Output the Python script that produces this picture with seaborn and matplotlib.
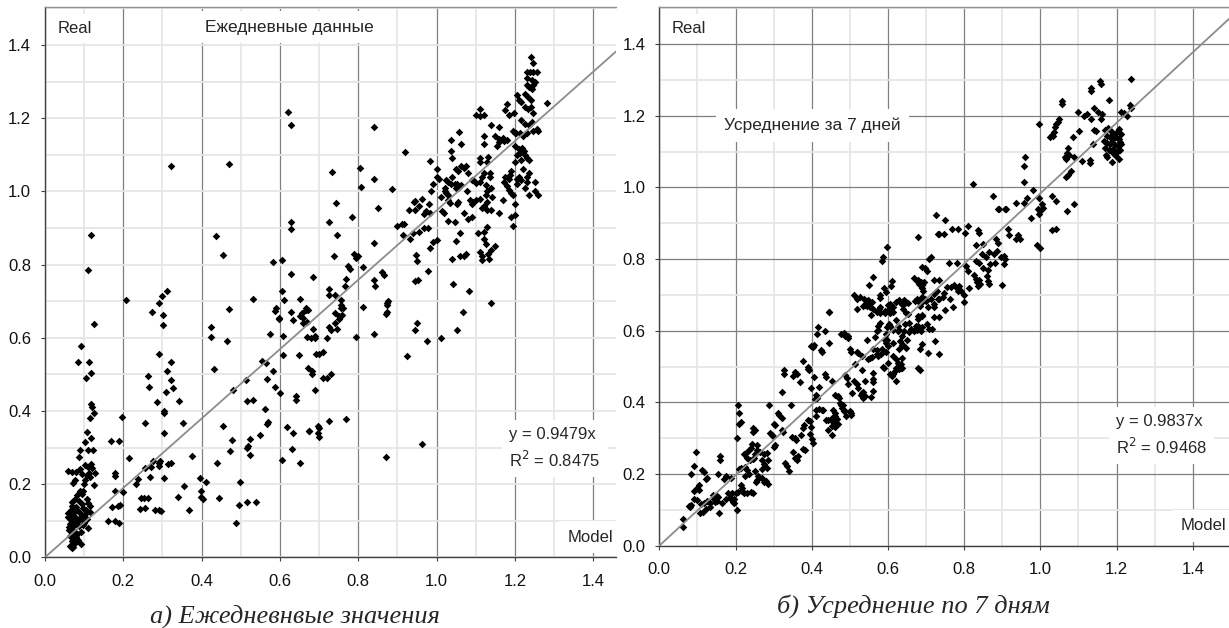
import numpy as np
import pandas as pd
import matplotlib
matplotlib.use('Agg')
import matplotlib.pyplot as plt
import seaborn as sns
from matplotlib.ticker import MultipleLocator, FormatStrFormatter

# (model, real) pairs
daily_points = [
    # low cluster near x=0.07-0.13
    (0.117,0.881),(0.111,0.784),(0.125,0.637),(0.092,0.578),(0.085,0.534),(0.113,0.534),(0.118,0.504),(0.105,0.490),
    (0.117,0.419),(0.119,0.412),(0.125,0.395),(0.115,0.381),(0.108,0.342),(0.118,0.325),(0.102,0.316),(0.089,0.293),
    (0.110,0.292),(0.122,0.292),(0.087,0.273),(0.103,0.252),(0.110,0.248),(0.118,0.255),(0.059,0.236),(0.070,0.233),
    (0.089,0.240),(0.128,0.230),(0.108,0.225),(0.116,0.220),(0.077,0.210),(0.072,0.203),(0.126,0.197),(0.102,0.210),
    (0.089,0.180),(0.098,0.182),(0.083,0.170),(0.094,0.172),(0.077,0.160),(0.107,0.160),(0.110,0.148),(0.094,0.145),
    (0.068,0.140),(0.079,0.138),(0.060,0.122),(0.072,0.115),(0.089,0.122),(0.102,0.118),(0.116,0.125),(0.063,0.105),
    (0.070,0.098),(0.078,0.108),(0.085,0.100),(0.095,0.105),(0.065,0.090),(0.072,0.085),(0.080,0.092),(0.088,0.085),
    (0.110,0.080),(0.062,0.075),(0.068,0.068),(0.075,0.072),(0.083,0.065),(0.092,0.070),(0.065,0.058),(0.072,0.052),
    (0.080,0.055),(0.068,0.045),(0.076,0.040),(0.085,0.048),(0.092,0.035),(0.063,0.030),(0.072,0.028),(0.068,0.025),
    (0.078,0.062),(0.060,0.110),(0.066,0.130),(0.082,0.130),(0.098,0.135),(0.100,0.095),(0.070,0.150),(0.086,0.155),
    (0.066,0.095),(0.074,0.125),(0.091,0.110),(0.062,0.082),(0.096,0.088),(0.105,0.128),(0.115,0.140),(0.108,0.105),
    (0.100,0.200),(0.112,0.230),(0.120,0.244),(0.095,0.228),(0.080,0.232),
    # 0.15 - 0.5
    (0.207,0.704),(0.274,0.671),(0.292,0.696),(0.298,0.715),(0.311,0.728),(0.301,0.662),(0.302,0.635),(0.290,0.556),
    (0.322,0.534),(0.262,0.495),(0.311,0.509),(0.321,0.484),(0.266,0.465),(0.326,0.462),(0.308,0.451),(0.285,0.425),
    (0.305,0.394),(0.305,0.399),(0.305,0.339),(0.255,0.368),(0.196,0.384),(0.168,0.319),(0.190,0.319),(0.215,0.270),
    (0.179,0.230),(0.179,0.223),(0.179,0.182),(0.198,0.178),(0.170,0.138),(0.187,0.140),(0.192,0.142),(0.160,0.100),
    (0.180,0.100),(0.190,0.093),(0.233,0.201),(0.238,0.215),(0.268,0.220),(0.244,0.163),(0.254,0.163),(0.263,0.163),
    (0.243,0.131),(0.256,0.136),(0.280,0.128),(0.290,0.130),(0.296,0.126),(0.256,0.245),(0.270,0.248),(0.275,0.262),
    (0.290,0.258),(0.293,0.262),(0.290,0.250),(0.303,0.218),(0.315,0.255),(0.322,0.258),(0.339,0.164),(0.354,0.195),
    (0.352,0.368),(0.341,0.427),(0.375,0.277),(0.368,0.129),(0.396,0.216),(0.398,0.180),(0.398,0.165),(0.403,0.158),
    (0.410,0.207),(0.321,1.070),(0.469,1.075),(0.436,0.879),(0.455,0.826),(0.425,0.628),(0.425,0.601),(0.431,0.515),
    (0.439,0.257),(0.444,0.163),(0.455,0.359),(0.472,0.291),(0.477,0.320),(0.464,0.592),(0.469,0.678),(0.479,0.457),
    (0.488,0.093),(0.496,0.143),
    # 0.5 - 0.7
    (0.499,0.206),(0.514,0.484),(0.517,0.428),(0.530,0.430),(0.516,0.300),(0.518,0.305),(0.523,0.280),(0.523,0.324),
    (0.517,0.150),(0.538,0.150),(0.548,0.333),(0.553,0.536),(0.564,0.530),(0.562,0.406),(0.568,0.365),(0.570,0.370),
    (0.568,0.486),(0.575,0.611),(0.583,0.510),(0.588,0.464),(0.590,0.680),(0.598,0.652),(0.600,0.448),(0.607,0.605),
    (0.607,0.554),(0.606,0.267),(0.618,0.357),(0.630,0.296),(0.634,0.341),(0.641,0.430),(0.642,0.440),(0.633,0.649),
    (0.648,0.554),(0.651,0.258),(0.657,0.668),(0.667,0.680),(0.669,0.643),(0.670,0.603),(0.671,0.517),(0.674,0.346),
    (0.681,0.508),(0.689,0.458),(0.693,0.555),(0.696,0.360),(0.698,0.340),(0.620,1.217),(0.628,1.181),(0.628,0.915),
    (0.628,0.897),(0.581,0.806),(0.605,0.812),(0.628,0.774),(0.685,0.765),(0.532,0.707),(0.606,0.728),(0.610,0.704),
    (0.588,0.674),(0.598,0.653),(0.628,0.671),(0.651,0.707),(0.652,0.659),(0.660,0.655),(0.666,0.675),(0.672,0.676),
    (0.682,0.500),(0.675,0.345),(0.700,0.353),(0.700,0.330),(0.680,0.600),(0.690,0.606),(0.685,0.625),(0.660,0.640),
    # 0.7 - 1.05
    (0.840,1.176),(0.920,1.108),(0.734,1.054),(0.805,1.065),(0.840,1.034),(0.807,1.011),(0.887,1.006),(0.742,0.967),
    (0.851,0.954),(0.726,0.917),(0.783,0.929),(0.745,0.882),(0.840,0.860),(0.739,0.823),(0.788,0.830),(0.793,0.818),
    (0.798,0.822),(0.775,0.795),(0.778,0.787),(0.811,0.794),(0.840,0.758),(0.842,0.740),(0.861,0.780),(0.866,0.772),
    (0.768,0.760),(0.766,0.742),(0.724,0.733),(0.724,0.716),(0.741,0.718),(0.756,0.703),(0.760,0.682),(0.758,0.662),
    (0.741,0.667),(0.811,0.685),(0.873,0.695),(0.872,0.665),(0.877,0.700),(1.068,0.671),(1.140,0.696),(1.041,0.746),
    (1.082,0.728),(0.948,0.826),(0.950,0.810),(0.953,0.758),(0.944,0.756),(0.979,0.783),(0.984,0.844),(0.990,0.862),
    (1.000,0.866),(0.955,0.890),(0.968,0.900),(0.978,0.900),(0.912,0.910),(0.918,0.912),(0.913,0.880),(0.898,0.906),
    (0.932,0.870),(0.940,0.885),(0.955,0.960),(0.962,0.980),(0.972,0.945),(0.968,0.938),(0.980,0.966),(0.982,0.940),
    (0.942,0.970),(0.946,0.974),(0.930,0.950),(0.946,0.950),(0.990,1.020),(0.985,1.000),(1.000,1.040),(1.002,1.060),
    (1.005,1.035),(0.983,1.084),(1.037,1.140),(1.040,1.090),(1.057,1.161),(1.024,1.030),(1.028,1.025),(1.036,1.020),
    (1.022,1.000),(1.030,0.990),(0.724,0.373),(0.768,0.378),(0.871,0.275),(0.963,0.310),(1.051,0.620),(1.011,0.600),
    (0.976,0.592),(0.949,0.640),(0.946,0.620),(0.924,0.551),(0.874,0.690),(0.874,0.670),(0.840,0.609),(0.794,0.601),
    (0.710,0.490),(0.720,0.490),(0.730,0.500),(0.700,0.555),(0.710,0.560),(0.690,0.600),(0.720,0.600),(0.730,0.620),
    (0.725,0.630),(0.740,0.640),(0.745,0.625),(0.750,0.650),(0.752,0.660),(0.755,0.680),(0.755,0.690),
    # 1.0 - 1.3
    (1.050,1.060),(1.055,1.055),(1.052,1.020),(1.050,1.010),(1.062,1.070),(1.070,1.065),(1.075,1.070),(1.077,1.000),
    (1.080,1.050),(1.090,1.030),(1.092,1.032),(1.092,0.970),(1.085,0.975),(1.100,0.975),(1.110,1.080),(1.128,1.080),
    (1.120,1.050),(1.136,1.050),(1.125,0.990),(1.128,1.000),(1.140,1.010),(1.142,0.985),(1.120,0.890),(1.122,0.870),
    (1.125,0.855),(1.130,0.830),(1.140,0.950),(1.150,0.850),(1.140,0.840),(1.170,0.975),(1.200,0.965),(1.200,0.935),
    (1.175,1.040),(1.185,1.035),(1.188,1.045),(1.190,1.055),(1.200,1.080),(1.215,1.085),(1.220,1.060),(1.205,1.035),
    (1.215,1.030),(1.230,1.025),(1.250,1.025),(1.235,1.050),(1.154,1.124),(1.120,1.150),(1.138,1.180),(1.160,1.175),
    (1.100,1.210),(1.112,1.205),(1.170,1.145),(1.160,1.142),(1.180,1.140),(1.200,1.160),(1.222,1.110),
    (1.241,1.367),(1.247,1.350),(1.230,1.325),(1.238,1.326),(1.247,1.325),(1.256,1.325),(1.232,1.310),(1.243,1.305),
    (1.252,1.300),(1.230,1.290),(1.236,1.285),(1.243,1.280),(1.247,1.290),(1.225,1.265),(1.234,1.258),(1.241,1.250),
    (1.205,1.262),(1.211,1.250),(1.215,1.245),(1.180,1.240),(1.175,1.222),(1.185,1.210),(1.198,1.215),(1.225,1.230),
    (1.234,1.225),(1.241,1.230),(1.247,1.215),(1.215,1.195),(1.225,1.185),(1.236,1.180),(1.243,1.190),(1.195,1.165),
    (1.203,1.160),(1.212,1.160),(1.220,1.150),(1.230,1.160),(1.247,1.165),(1.256,1.170),(1.260,1.165),(1.200,1.125),
    (1.210,1.115),(1.218,1.118),(1.213,1.105),(1.205,1.100),(1.226,1.098),(1.232,1.090),(1.236,1.085),(1.281,1.242),
    (1.110,1.224),(1.120,1.208),(1.150,1.150),(1.160,1.135),(1.172,1.138),(1.120,1.130),(1.063,1.130),(1.036,1.110),
    (1.110,1.090),(1.130,1.095),(1.040,1.040),(1.115,1.040),(1.137,1.040),(1.172,1.025),(1.180,1.015),(1.185,1.005),
    (1.190,0.995),(1.195,0.990),(1.205,1.020),(1.210,1.040),(1.230,1.040),(1.225,1.010),(1.250,1.000),(1.235,0.990),
    (1.260,0.990),(1.046,1.020),(1.055,1.010),(1.062,1.018),(1.022,1.010),(1.025,0.995),(1.010,0.985),(1.100,1.022),
    (1.110,1.025),(1.125,1.018),(1.030,0.975),(1.035,0.968),(1.055,0.972),(1.052,0.965),(1.090,0.965),(1.110,0.980),
    (1.128,0.970),(1.120,0.960),(1.115,0.955),(1.128,0.950),(1.015,0.945),(1.020,0.940),(1.070,0.942),(1.030,0.920),
    (1.047,0.915),(1.080,0.925),(1.090,0.930),(1.160,0.940),(1.128,0.903),(1.105,0.885),(1.060,0.885),(1.050,0.865),
    (1.190,0.930),(1.195,0.905),(1.110,0.835),(1.115,0.823),(1.135,0.815),(1.115,0.812),(1.070,0.823),(1.075,0.830),
    (1.060,0.822),(1.040,0.815),
]

weekly_points = [
    (0.063,0.053),(0.063,0.074),(0.077,0.112),(0.081,0.108),(0.082,0.114),(0.090,0.130),(0.100,0.128),(0.090,0.152),
    (0.098,0.160),(0.105,0.155),(0.082,0.200),(0.090,0.222),(0.097,0.262),(0.105,0.170),(0.118,0.205),(0.112,0.210),
    (0.125,0.190),(0.122,0.185),(0.108,0.115),(0.118,0.118),(0.126,0.124),(0.134,0.120),(0.106,0.092),(0.114,0.095),
    (0.123,0.103),(0.134,0.108),(0.143,0.130),(0.147,0.122),(0.150,0.125),(0.155,0.135),(0.140,0.142),(0.152,0.140),
    (0.155,0.200),(0.158,0.240),(0.160,0.250),(0.174,0.195),(0.170,0.185),(0.188,0.190),(0.156,0.092),(0.165,0.120),
    (0.175,0.130),(0.185,0.132),(0.192,0.122),(0.197,0.118),(0.197,0.130),(0.180,0.148),(0.190,0.146),(0.202,0.148),
    (0.206,0.150),(0.216,0.153),(0.222,0.148),(0.230,0.146),(0.240,0.150),(0.246,0.148),(0.205,0.100),(0.206,0.392),
    (0.210,0.370),(0.213,0.345),(0.210,0.340),(0.205,0.300),(0.210,0.214),(0.214,0.218),(0.224,0.220),(0.231,0.212),
    (0.226,0.195),(0.235,0.200),(0.215,0.170),(0.217,0.160),(0.222,0.255),(0.228,0.260),(0.234,0.268),(0.240,0.272),
    (0.230,0.245),(0.238,0.240),(0.245,0.318),(0.250,0.322),(0.246,0.328),(0.244,0.285),(0.256,0.282),(0.256,0.268),
    (0.252,0.255),(0.248,0.245),(0.246,0.242),(0.252,0.208),(0.256,0.183),(0.254,0.178),(0.260,0.195),(0.270,0.215),
    (0.275,0.228),(0.270,0.240),(0.283,0.218),(0.270,0.190),(0.275,0.178),(0.280,0.180),(0.285,0.172),(0.265,0.262),
    (0.275,0.256),(0.283,0.258),(0.288,0.393),(0.290,0.315),(0.295,0.310),(0.298,0.305),(0.300,0.340),(0.304,0.336),
    (0.300,0.275),(0.304,0.280),(0.285,0.240),(0.312,0.370),(0.315,0.365),(0.322,0.356),(0.322,0.324),(0.325,0.318),
    (0.322,0.428),(0.326,0.490),(0.326,0.478),(0.329,0.232),(0.334,0.222),(0.340,0.208),(0.345,0.392),(0.348,0.302),
    (0.356,0.300),(0.358,0.296),(0.350,0.262),(0.355,0.245),(0.360,0.240),(0.364,0.250),(0.350,0.475),(0.356,0.484),
    (0.362,0.480),(0.368,0.458),(0.372,0.310),(0.376,0.328),(0.380,0.338),(0.378,0.270),(0.382,0.267),(0.378,0.515),
    (0.390,0.494),(0.394,0.490),(0.396,0.347),(0.398,0.330),(0.391,0.350),(0.395,0.311),(0.400,0.297),(0.404,0.288),
    (0.389,0.499),(0.398,0.441),(0.405,0.470),(0.398,0.557),(0.402,0.555),(0.406,0.560),(0.408,0.410),(0.413,0.412),
    (0.412,0.378),(0.420,0.382),(0.412,0.363),(0.411,0.420),(0.416,0.610),(0.414,0.592),(0.420,0.443),(0.426,0.380),
    (0.430,0.378),(0.424,0.545),(0.428,0.540),(0.434,0.600),(0.436,0.480),(0.438,0.470),(0.438,0.352),(0.442,0.352),
    (0.452,0.356),(0.455,0.345),(0.452,0.335),(0.442,0.322),(0.446,0.652),(0.444,0.565),(0.454,0.460),(0.452,0.310),
    (0.457,0.380),(0.462,0.370),(0.460,0.362),(0.466,0.355),(0.458,0.342),(0.476,0.590),(0.462,0.332),(0.470,0.340),
    (0.462,0.420),(0.470,0.417),(0.472,0.412),(0.475,0.398),(0.478,0.392),(0.482,0.393),(0.480,0.383),(0.485,0.377),
    (0.488,0.375),(0.490,0.362),(0.494,0.579),(0.496,0.585),(0.488,0.477),(0.492,0.468),(0.484,0.595),(0.486,0.586),
    (0.496,0.450),(0.500,0.376),(0.502,0.370),(0.504,0.365),(0.500,0.548),(0.503,0.540),(0.506,0.425),(0.512,0.459),
    (0.514,0.508),(0.518,0.541),(0.522,0.537),(0.520,0.452),(0.522,0.440),(0.530,0.420),(0.534,0.412),(0.536,0.418),
    (0.540,0.418),(0.535,0.428),(0.532,0.425),(0.520,0.661),(0.532,0.530),(0.532,0.490),(0.540,0.460),(0.540,0.673),
    (0.548,0.685),(0.552,0.665),(0.555,0.645),(0.544,0.573),(0.548,0.522),(0.553,0.525),(0.557,0.527),(0.556,0.415),
    (0.560,0.457),(0.562,0.465),(0.562,0.432),(0.560,0.481),(0.565,0.582),(0.570,0.600),(0.574,0.603),(0.570,0.536),
    (0.575,0.530),(0.582,0.535),(0.575,0.614),(0.580,0.622),(0.570,0.653),(0.576,0.662),(0.578,0.665),(0.580,0.691),
    (0.586,0.500),(0.590,0.495),(0.592,0.575),(0.596,0.566),(0.598,0.610),(0.602,0.620),(0.606,0.614),(0.602,0.660),
    (0.606,0.675),(0.612,0.665),(0.600,0.510),(0.606,0.480),(0.610,0.475),(0.612,0.530),(0.620,0.520),(0.626,0.510),
    (0.630,0.500),(0.635,0.495),(0.612,0.478),(0.618,0.488),(0.622,0.496),(0.630,0.492),(0.636,0.497),(0.634,0.507),
    (0.620,0.460),(0.625,0.600),(0.628,0.603),(0.632,0.570),(0.637,0.560),(0.630,0.548),(0.636,0.525),(0.640,0.660),
    (0.646,0.650),(0.652,0.648),(0.630,0.685),(0.636,0.676),(0.645,0.683),(0.660,0.605),(0.667,0.598),(0.676,0.602),
    (0.686,0.600),(0.680,0.632),(0.670,0.682),(0.680,0.682),(0.705,0.538),
    # upper middle
    (0.446,0.653),(0.598,0.834),(0.678,0.862),(0.725,0.922),(0.732,0.871),(0.714,0.806),(0.690,0.777),(0.697,0.775),
    (0.588,0.806),(0.584,0.794),(0.562,0.750),(0.549,0.727),(0.510,0.700),(0.520,0.690),(0.527,0.695),(0.535,0.670),
    (0.543,0.678),(0.552,0.680),(0.580,0.650),(0.592,0.655),(0.604,0.650),(0.612,0.652),(0.622,0.680),(0.638,0.680),
    (0.642,0.685),(0.677,0.740),(0.686,0.737),(0.682,0.730),(0.690,0.720),(0.692,0.712),(0.690,0.695),(0.698,0.690),
    (0.692,0.685),(0.734,0.741),(0.688,0.680),(0.720,0.676),(0.730,0.690),(0.735,0.688),(0.678,0.642),(0.690,0.642),
    (0.734,0.638),(0.750,0.909),(0.890,0.941),(0.907,0.941),(0.735,0.870),(0.747,0.869),(0.767,0.883),(0.783,0.883),
    (0.802,0.873),(0.811,0.893),(0.837,0.880),(0.840,0.873),(0.830,0.840),(0.850,0.842),(0.883,0.855),(0.890,0.845),
    (0.916,0.885),(0.917,0.868),(0.708,0.800),(0.760,0.790),(0.780,0.790),(0.806,0.781),(0.810,0.768),(0.832,0.795),
    (0.840,0.790),(0.846,0.814),(0.858,0.806),(0.865,0.820),(0.878,0.815),(0.887,0.822),(0.896,0.806),(0.905,0.810),
    (0.908,0.800),(0.867,0.787),(0.880,0.790),(0.905,0.787),(0.850,0.774),(0.862,0.770),(0.703,0.766),(0.668,0.748),
    (0.678,0.742),(0.688,0.727),(0.695,0.735),(0.722,0.741),(0.755,0.723),(0.766,0.723),(0.772,0.728),(0.780,0.720),
    (0.783,0.712),(0.787,0.725),(0.792,0.710),(0.800,0.700),(0.812,0.718),(0.835,0.725),(0.842,0.730),(0.825,0.755),
    (0.830,0.745),(0.834,0.735),(0.840,0.742),(0.863,0.740),(0.865,0.730),(0.860,0.752),(0.898,0.727),(0.610,0.740),
    (0.608,0.725),(0.596,0.707),(0.590,0.720),(0.580,0.700),(0.538,0.690),(0.545,0.668),(0.558,0.680),(0.560,0.660),
    (0.600,0.672),(0.607,0.672),(0.592,0.650),(0.632,0.680),(0.640,0.672),(0.653,0.678),(0.675,0.690),(0.700,0.683),
    (0.713,0.690),(0.722,0.702),(0.728,0.712),(0.748,0.705),(0.745,0.693),(0.762,0.690),(0.620,0.630),(0.625,0.612),
    (0.642,0.600),(0.645,0.620),(0.656,0.622),(0.612,0.602),(0.636,0.585),(0.650,0.575),(0.655,0.596),(0.673,0.612),
    (0.678,0.613),(0.690,0.610),(0.595,0.590),(0.598,0.575),(0.600,0.557),(0.612,0.565),(0.560,0.548),(0.572,0.547),
    (0.585,0.548),(0.595,0.540),(0.723,0.572),(0.640,0.560),(0.648,0.553),
    (0.800,0.681),(0.770,0.665),(0.750,0.657),(0.720,0.667),(0.706,0.667),(0.685,0.670),(0.720,0.638),(0.715,0.605),
    (0.690,0.643),(0.702,0.618),(0.708,0.605),(0.735,0.535),(0.690,0.563),(0.684,0.550),(0.684,0.490),(0.680,0.496),
    # top cluster
    (1.237,1.304),(1.157,1.296),(1.159,1.288),(1.132,1.279),(1.134,1.270),(1.056,1.240),(1.058,1.232),(1.180,1.243),
    (1.140,1.222),(1.150,1.210),(1.162,1.205),(1.160,1.192),(1.100,1.210),(1.115,1.200),(1.123,1.205),(1.132,1.192),
    (1.236,1.230),(1.238,1.223),(1.212,1.212),(1.220,1.208),(1.228,1.200),(1.050,1.190),(1.046,1.182),(1.042,1.178),
    (1.038,1.168),(1.035,1.155),(1.030,1.147),(0.997,1.176),(1.026,1.140),(1.033,1.143),(1.072,1.110),(1.085,1.140),
    (1.102,1.158),(1.141,1.160),(1.145,1.158),(1.138,1.120),(1.170,1.160),(1.178,1.165),(1.185,1.158),(1.192,1.150),
    (1.200,1.155),(1.206,1.162),(1.212,1.150),(1.175,1.145),(1.183,1.140),(1.190,1.135),(1.198,1.140),(1.205,1.135),
    (1.210,1.128),(1.168,1.130),(1.175,1.125),(1.182,1.120),(1.188,1.128),(1.196,1.118),(1.204,1.115),(1.212,1.120),
    (1.170,1.110),(1.180,1.105),(1.190,1.108),(1.200,1.100),(1.208,1.105),(1.172,1.092),(1.175,1.085),(1.190,1.096),
    (1.198,1.088),(1.205,1.080),(1.188,1.070),(1.070,1.096),(1.068,1.080),(1.065,1.086),(1.075,1.092),(1.088,1.085),
    (1.110,1.075),(1.130,1.078),(1.130,1.068),(1.080,1.045),(1.072,1.035),(1.066,1.030),(0.960,1.085),(0.958,1.060),
    (0.958,1.015),(0.822,1.011),(0.980,0.993),(0.964,0.970),(0.958,0.958),(0.936,0.957),(0.997,0.970),(1.003,0.955),
    (1.030,0.975),(1.040,0.962),(1.087,0.953),(1.070,0.935),(0.995,0.940),(1.007,0.942),(0.997,0.925),(1.000,0.935),
    (0.976,0.915),(0.876,0.976),(0.892,0.940),(0.910,0.940),(1.030,0.880),(1.042,0.885),(0.942,0.867),(0.935,0.856),
    (0.946,0.857),(0.990,0.840),(0.998,0.832),
]

slopes = [0.9479, 0.9837]
r2 = ['0.8475', '0.9468']
x_max = [1.458, 1.495]
y_max = 1.503
inner_titles = ['Ежедневные данные', 'Усреднение за 7 дней']
captions = ['а) Ежедневнвые значения', 'б) Усреднение по 7 дням']

sns.set_style('white')
plt.rcParams['font.family'] = ['Liberation Sans', 'DejaVu Sans']

fig = plt.figure(figsize=(12.29, 6.28), dpi=100)
ax1 = fig.add_axes([0.0366, 0.1126, 0.4646, 0.8758])
ax2 = fig.add_axes([0.5365, 0.1311, 0.4635, 0.8573])

panels = [
    (ax1, daily_points, 0),
    (ax2, weekly_points, 1),
]

for ax, pts, i in panels:
    df = pd.DataFrame(pts, columns=['Model', 'Real'])
    ax.set_axisbelow(True)
    sns.scatterplot(data=df, x='Model', y='Real', marker='D', s=15, color='black',
                    linewidth=0, ax=ax, zorder=3)
    xs = np.array([0, x_max[i]])
    sns.lineplot(x=xs, y=slopes[i] * xs, color='#8c8c8c', linewidth=1.3, ax=ax, zorder=4)

    ax.set_xlim(0, x_max[i])
    ax.set_ylim(0, y_max)
    ax.xaxis.set_major_locator(MultipleLocator(0.2))
    ax.xaxis.set_minor_locator(MultipleLocator(0.1))
    ax.yaxis.set_major_locator(MultipleLocator(0.2))
    ax.yaxis.set_minor_locator(MultipleLocator(0.1))
    ax.xaxis.set_major_formatter(FormatStrFormatter('%.1f'))
    ax.yaxis.set_major_formatter(FormatStrFormatter('%.1f'))
    ax.set_xlabel('')
    ax.set_ylabel('')

    ax.xaxis.grid(True, which='major', color='#808080', linewidth=0.9)
    ax.xaxis.grid(True, which='minor', color='#e6e6e6', linewidth=1.3)
    if i == 0:
        ax.yaxis.grid(True, which='both', color='#e6e6e6', linewidth=1.3)
    else:
        ax.yaxis.grid(True, which='major', color='#808080', linewidth=0.9)
        ax.yaxis.grid(True, which='minor', color='#e6e6e6', linewidth=1.3)

    ax.tick_params(axis='both', which='major', length=3, width=0.8, color='#404040',
                   labelsize=12, labelcolor='#111111', left=True, bottom=True)
    ax.tick_params(axis='y', which='major', pad=7)
    ax.tick_params(axis='x', which='major', pad=9)
    ax.tick_params(which='minor', length=0)

    for side in ['left', 'bottom']:
        ax.spines[side].set_color('#404040')
        ax.spines[side].set_linewidth(1.0)
    ax.spines['top'].set_color('#909090')
    ax.spines['top'].set_linewidth(1.0)
    ax.spines['right'].set_visible(False)

    ax.text(0.032, 1.445, 'Real', fontsize=12, ha='left', va='center',
            bbox=dict(facecolor='white', edgecolor='none', pad=5), zorder=6)
    ax.text(x_max[i] - 0.008, 0.055, 'Model', fontsize=12, ha='right', va='center',
            bbox=dict(facecolor='white', edgecolor='none', pad=6), zorder=6)
    ax.text(1.186 + 0.012 * i, 0.298 + 0.01 * i,
            'y = %.4fx\nR$^2$ = %s' % (slopes[i], r2[i]),
            fontsize=12, ha='left', va='center', linespacing=1.45,
            bbox=dict(facecolor='white', edgecolor='none', pad=5), zorder=6)

ax1.text(0.623, 1.449, inner_titles[0], fontsize=12.5, ha='center', va='center',
         bbox=dict(facecolor='white', edgecolor='none', pad=6), zorder=6)
ax2.text(0.402, 1.173, inner_titles[1], fontsize=12.5, ha='center', va='center',
         bbox=dict(facecolor='white', edgecolor='none', pad=6), zorder=6)

fig.text(0.240, 0.008, captions[0], fontsize=19, style='italic',
         family=['Liberation Serif', 'DejaVu Serif'], ha='center', va='baseline')
fig.text(0.743, 0.025, captions[1], fontsize=19, style='italic',
         family=['Liberation Serif', 'DejaVu Serif'], ha='center', va='baseline')

fig.savefig('out.png', dpi=100)
